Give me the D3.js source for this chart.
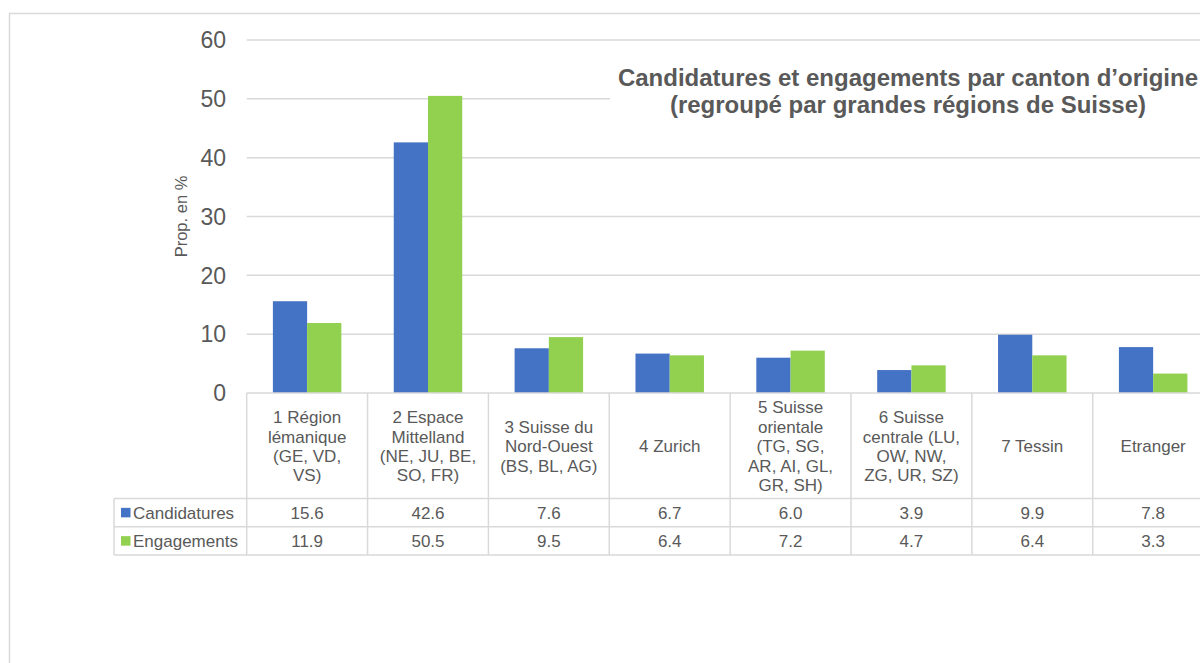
<!DOCTYPE html>
<html>
<head>
<meta charset="utf-8">
<script src="https://cdn.jsdelivr.net/npm/d3@7"></script>
<style>
  body { margin: 0; background: #fff; }
  svg { display: block; font-family: "Liberation Sans", Arial, sans-serif; }
</style>
</head>
<body>
<div id="chart-area"></div>
<script>
// data
var categories = [
    "1 Région\nlémanique\n(GE, VD,\nVS)",
    "2 Espace\nMittelland\n(NE, JU, BE,\nSO, FR)",
    "3 Suisse du\nNord-Ouest\n(BS, BL, AG)",
    "4 Zurich",
    "5 Suisse\norientale\n(TG, SG,\nAR, AI, GL,\nGR, SH)",
    "6 Suisse\ncentrale (LU,\nOW, NW,\nZG, UR, SZ)",
    "7 Tessin",
    "Etranger"
];
var seriesNames = ["Candidatures", "Engagements"];
var candidatures = [15.6, 42.6, 7.6, 6.7, 6.0, 3.9, 9.9, 7.8];
var engagements = [11.9, 50.5, 9.5, 6.4, 7.2, 4.7, 6.4, 3.3];
var yTicks = [0, 10, 20, 30, 40, 50, 60];
var colors = ["#4472C4", "#92D050"];

var values = [candidatures, engagements];
var textColor = "#595959";
var lineColor = "#d9d9d9";

var svg = d3.select("#chart-area")
    .append("svg")
    .attr("width", 1200)
    .attr("height", 663);

// chart area border
svg.append("rect")
    .attr("x", 9.5)
    .attr("y", 13.5)
    .attr("width", 1300)
    .attr("height", 800)
    .attr("fill", "#fff")
    .attr("stroke", lineColor)
    .attr("stroke-width", 1.5);

var x = d3.scaleBand()
    .domain(categories)
    .range([246.7, 246.7 + 8 * 120.86]);

var xInner = d3.scaleBand()
    .domain(seriesNames)
    .range([0, x.bandwidth()])
    .paddingInner(0)
    .paddingOuter(0.765);

var y = d3.scaleLinear()
    .domain([0, 60])
    .range([393, 40]);

// gridlines
svg.selectAll("line.grid")
    .data(yTicks.filter(function(d) { return d > 0; }))
    .enter()
    .append("line")
    .attr("class", "grid")
    .attr("x1", x.range()[0])
    .attr("x2", 1210)
    .attr("y1", function(d) { return y(d); })
    .attr("y2", function(d) { return y(d); })
    .attr("stroke", lineColor)
    .attr("stroke-width", 1.5);

// y tick labels
svg.selectAll("text.ytick")
    .data(yTicks)
    .enter()
    .append("text")
    .attr("class", "ytick")
    .attr("x", 226)
    .attr("y", function(d) { return y(d); })
    .attr("dy", "0.36em")
    .attr("text-anchor", "end")
    .attr("font-size", 23)
    .attr("fill", textColor)
    .text(function(d) { return d; });

// y axis title
svg.append("text")
    .attr("transform", "translate(187," + ((y(0) + y(60)) / 2) + ") rotate(-90)")
    .attr("text-anchor", "middle")
    .attr("font-size", 16.5)
    .attr("fill", textColor)
    .text("Prop. en %");

// bars
seriesNames.forEach(function(s, si) {
    svg.selectAll("rect.bar" + si)
        .data(values[si])
        .enter()
        .append("rect")
        .attr("class", "bar" + si)
        .attr("x", function(d, i) { return x(categories[i]) + xInner(s); })
        .attr("width", xInner.bandwidth())
        .attr("y", function(d) { return y(d); })
        .attr("height", function(d) { return y(0) - y(d); })
        .attr("fill", colors[si]);
});

// title (white box hides gridlines behind it)
svg.append("rect")
    .attr("x", 610)
    .attr("y", 54)
    .attr("width", 600)
    .attr("height", 72)
    .attr("fill", "#fff");

var title = svg.append("text")
    .attr("text-anchor", "middle")
    .attr("font-size", 24)
    .attr("font-weight", "bold")
    .attr("fill", textColor);
title.append("tspan").attr("x", 908).attr("y", 85.5).text("Candidatures et engagements par canton d\u2019origine");
title.append("tspan").attr("x", 908).attr("y", 112.5).text("(regroupé par grandes régions de Suisse)");

// data table
var headerTop = y(0), headerBottom = 498.5, rowH = 28.3;
var tableLeft = 114, tableRight = 1230;
var table = svg.append("g")
    .attr("stroke", lineColor)
    .attr("stroke-width", 1.5)
    .attr("fill", "none");

// horizontal lines
table.append("line").attr("x1", x.range()[0]).attr("x2", tableRight)
    .attr("y1", headerTop).attr("y2", headerTop);
[0, 1, 2].forEach(function(r) {
    var yy = headerBottom + r * rowH;
    table.append("line").attr("x1", tableLeft).attr("x2", tableRight)
        .attr("y1", yy).attr("y2", yy);
});
// vertical lines
table.append("line").attr("x1", tableLeft).attr("x2", tableLeft)
    .attr("y1", headerBottom).attr("y2", headerBottom + 2 * rowH);
categories.forEach(function(c) {
    var xx = x(c);
    table.append("line").attr("x1", xx).attr("x2", xx)
        .attr("y1", headerTop).attr("y2", headerBottom + 2 * rowH);
});

// category labels
var lineH = 19.4;
var headerMid = (headerTop + headerBottom) / 2 + 0.5;
categories.forEach(function(c) {
    var lines = c.split("\n");
    var t = svg.append("text")
        .attr("text-anchor", "middle")
        .attr("font-size", 17)
        .attr("fill", textColor);
    lines.forEach(function(l, li) {
        t.append("tspan")
            .attr("x", x(c) + x.bandwidth() / 2)
            .attr("y", headerMid + (li - (lines.length - 1) / 2) * lineH)
            .attr("dy", "0.35em")
            .text(l);
    });
});

// rows: legend key + values
seriesNames.forEach(function(s, si) {
    var mid = headerBottom + si * rowH + rowH / 2;
    svg.append("rect")
        .attr("x", 121)
        .attr("y", mid - 4.8)
        .attr("width", 9.5)
        .attr("height", 9.5)
        .attr("fill", colors[si]);
    svg.append("text")
        .attr("x", 133)
        .attr("y", mid)
        .attr("dy", "0.35em")
        .attr("font-size", 17)
        .attr("fill", textColor)
        .text(s);
    svg.selectAll("text.val" + si)
        .data(values[si])
        .enter()
        .append("text")
        .attr("class", "val" + si)
        .attr("x", function(d, i) { return x(categories[i]) + x.bandwidth() / 2; })
        .attr("y", mid)
        .attr("dy", "0.35em")
        .attr("text-anchor", "middle")
        .attr("font-size", 17)
        .attr("fill", textColor)
        .text(function(d) { return d.toFixed(1); });
});
</script>
</body>
</html>
